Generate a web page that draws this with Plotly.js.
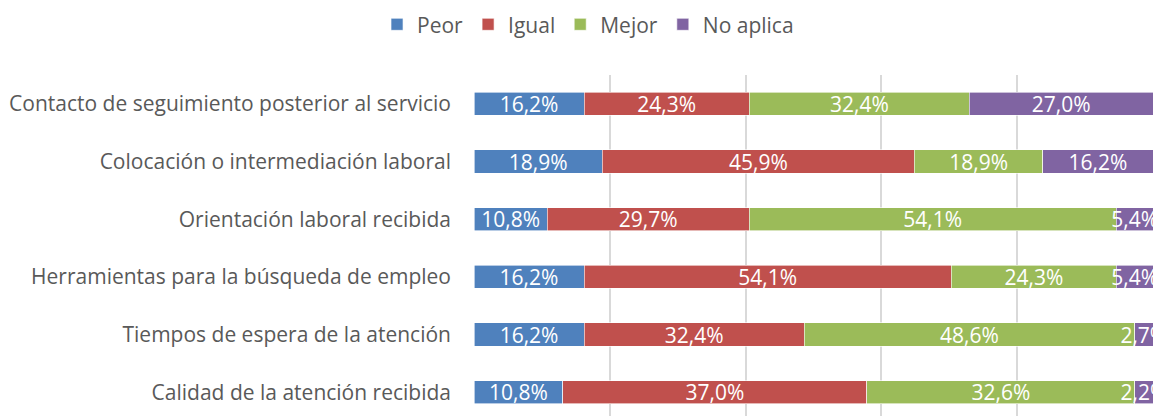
<!DOCTYPE html>
<html>
<head>
<meta charset="utf-8">
<script src="https://cdn.plot.ly/plotly-3.0.1.min.js"></script>
<style>html,body{margin:0;padding:0;background:#fff;}#chart{width:1153px;height:416px;}</style>
</head>
<body>
<div id="chart"></div>
<script>
// Categories listed bottom-to-top
var categories = [
  'Calidad de la atención recibida',
  'Tiempos de espera de la atención',
  'Herramientas para la búsqueda de empleo',
  'Orientación laboral recibida',
  'Colocación o intermediación laboral',
  'Contacto de seguimiento posterior al servicio'
];
var seriesNames = ['Peor', 'Igual', 'Mejor', 'No aplica'];
var peor     = [10.8, 16.2, 16.2, 10.8, 18.9, 16.2];
var igual    = [37.0, 32.4, 54.1, 29.7, 45.9, 24.3];
var mejor    = [32.6, 48.6, 24.3, 54.1, 18.9, 32.4];
var noAplica = [2.2, 2.7, 5.4, 5.4, 16.2, 27.0];
var gridTicks = [0, 20, 40, 60, 80, 100];

var colors = ['#4F81BD', '#C0504D', '#9BBB59', '#8064A2'];
var FONT = '"Open Sans", Lato, sans-serif';

function fmt(v) { return v.toFixed(1).replace('.', ',') + '%'; }

var seriesValues = [peor, igual, mejor, noAplica];
var data = seriesValues.map(function (vals, i) {
  return {
    type: 'bar',
    orientation: 'h',
    name: seriesNames[i],
    y: categories,
    x: vals,
    text: vals.map(fmt),
    textposition: 'inside',
    insidetextanchor: 'middle',
    textangle: 0,
    constraintext: 'none',
    textfont: {color: '#ffffff', size: 21, family: FONT},
    marker: {color: colors[i], line: {color: '#ffffff', width: 0.6}},
    hoverinfo: 'skip'
  };
});

var layout = {
  width: 1153,
  height: 416,
  barmode: 'stack',
  barnorm: 'percent',
  bargap: 0.6,
  margin: {l: 474, r: 0, t: 75, b: 0, pad: 0},
  paper_bgcolor: '#ffffff',
  plot_bgcolor: '#ffffff',
  font: {family: FONT, color: '#595959', size: 21},
  showlegend: true,
  legend: {
    orientation: 'h',
    xref: 'container',
    yref: 'container',
    x: 0.51,
    xanchor: 'center',
    y: 0.99,
    yanchor: 'top',
    traceorder: 'normal',
    font: {family: FONT, size: 21, color: '#595959'},
    itemwidth: 20
  },
  xaxis: {
    range: [0, 100],
    tickvals: gridTicks,
    showticklabels: false,
    showgrid: true,
    gridcolor: '#D9D9D9',
    gridwidth: 2,
    zeroline: false,
    showline: false,
    fixedrange: true
  },
  yaxis: {
    type: 'category',
    range: [-0.413, 5.5],
    showgrid: false,
    zeroline: false,
    showline: false,
    ticks: '',
    ticklabelstandoff: 22,
    tickfont: {family: FONT, size: 21, color: '#595959'},
    fixedrange: true
  }
};

Plotly.newPlot('chart', data, layout, {displayModeBar: false, staticPlot: true});
</script>
</body>
</html>
